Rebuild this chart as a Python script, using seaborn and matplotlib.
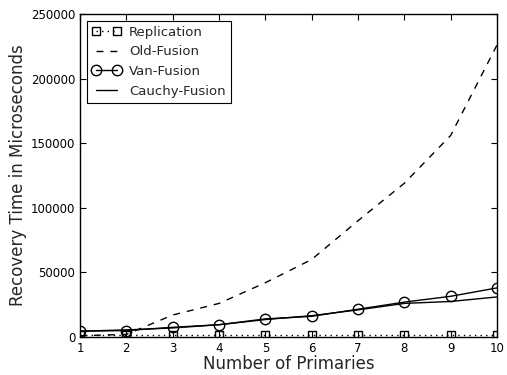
import matplotlib
matplotlib.use("Agg")
import matplotlib.pyplot as plt
import seaborn as sns

primaries = [1, 2, 3, 4, 5, 6, 7, 8, 9, 10]
replication = [1800, 1800, 1800, 1800, 1800, 1800, 1800, 1800, 1800, 1800]
old_fusion = [1000, 2000, 17000, 26000, 42000, 60000, 90000, 119000, 156000, 226000]
van_fusion = [4500, 5000, 7500, 9500, 14000, 16000, 21500, 27000, 31500, 38000]
cauchy_fusion = [4500, 5500, 7000, 9500, 13500, 16500, 21000, 26000, 27500, 31000]

sns.set_theme(style="ticks")
plt.rcParams['font.family'] = ['DejaVu Sans']

fig = plt.figure(figsize=(5.07, 3.75), dpi=100)
ax = fig.add_axes([80/507, 38/375, 417/507, 323/375])

sns.lineplot(x=primaries, y=replication, ax=ax, color="black", linestyle=(0, (1, 3)), marker="s",
             markersize=5.5, markerfacecolor="none", markeredgecolor="black", markeredgewidth=1,
             linewidth=1, label="Replication")
sns.lineplot(x=primaries, y=old_fusion, ax=ax, color="black", linestyle=(0, (5, 5)),
             linewidth=1, label="Old-Fusion")
sns.lineplot(x=primaries, y=van_fusion, ax=ax, color="black", linestyle="-", marker="o",
             markersize=7.5, markerfacecolor="none", markeredgecolor="black", markeredgewidth=1,
             linewidth=1, label="Van-Fusion")
sns.lineplot(x=primaries, y=cauchy_fusion, ax=ax, color="black", linestyle="-",
             linewidth=1, label="Cauchy-Fusion")

ax.set_xlim(1, 10)
ax.set_ylim(0, 250000)
ax.set_xticks(primaries)
ax.set_yticks([0, 50000, 100000, 150000, 200000, 250000])
ax.ticklabel_format(axis="y", style="plain")
ax.tick_params(direction="in", top=True, right=True, labelsize=8.5, length=4, width=0.8, colors="black")
for s in ax.spines.values():
    s.set_linewidth(1)
    s.set_color("black")
ax.set_xlabel("Number of Primaries", fontsize=12, labelpad=0)
ax.set_ylabel("Recovery Time in Microseconds", fontsize=12, labelpad=3)

leg = ax.legend(loc="upper left", fontsize=9.5, numpoints=2, handlelength=2.2, handletextpad=0.6,
                fancybox=False, framealpha=1, edgecolor="black", borderaxespad=0.5)
leg.get_frame().set_linewidth(0.8)

fig.savefig("out.png", dpi=100)
